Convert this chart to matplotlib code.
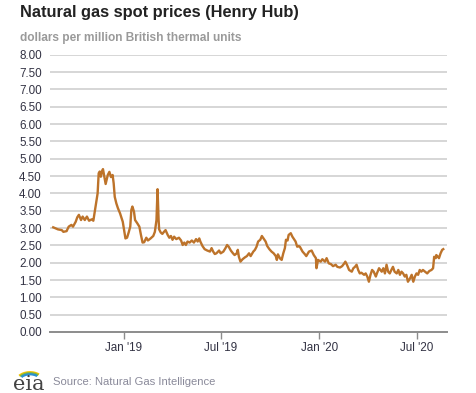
import matplotlib
matplotlib.use("Agg")
import matplotlib.pyplot as plt
import matplotlib.patches as mpatches
import pandas as pd

dates = [
    "2018-08-22", "2018-08-31", "2018-09-07", "2018-09-10", "2018-09-16", "2018-09-20", "2018-09-25", "2018-09-28",
    "2018-10-03", "2018-10-06", "2018-10-09", "2018-10-13", "2018-10-16", "2018-10-20", "2018-10-24", "2018-10-28",
    "2018-11-02", "2018-11-05", "2018-11-08", "2018-11-11", "2018-11-13", "2018-11-15", "2018-11-17", "2018-11-19",
    "2018-11-21", "2018-11-23", "2018-11-26", "2018-11-28", "2018-12-02", "2018-12-05", "2018-12-08", "2018-12-11",
    "2018-12-13", "2018-12-15", "2018-12-18", "2018-12-21", "2018-12-25", "2018-12-28", "2018-12-30", "2019-01-02",
    "2019-01-04", "2019-01-07", "2019-01-10", "2019-01-13",
    "2019-01-15", "2019-01-17", "2019-01-20", "2019-01-22", "2019-01-26", "2019-01-30", "2019-02-02", "2019-02-05",
    "2019-02-08", "2019-02-12", "2019-02-15", "2019-02-20", "2019-02-25", "2019-02-28", "2019-03-03", "2019-03-05",
    "2019-03-07", "2019-03-08", "2019-03-11", "2019-03-14", "2019-03-17", "2019-03-20", "2019-03-24", "2019-03-27",
    "2019-03-30", "2019-04-02", "2019-04-05", "2019-04-09", "2019-04-14", "2019-04-18", "2019-04-21", "2019-04-24",
    "2019-04-27", "2019-04-30", "2019-05-04", "2019-05-08", "2019-05-12", "2019-05-16", "2019-05-19", "2019-05-22",
    "2019-05-24", "2019-05-28", "2019-06-01", "2019-06-06", "2019-06-11", "2019-06-14", "2019-06-17",
    "2019-06-20", "2019-06-23", "2019-06-28", "2019-07-01", "2019-07-06", "2019-07-10", "2019-07-13", "2019-07-16",
    "2019-07-20", "2019-07-24", "2019-07-27", "2019-07-31", "2019-08-02", "2019-08-04", "2019-08-07", "2019-08-11",
    "2019-08-15", "2019-08-19", "2019-08-23", "2019-08-26", "2019-08-31", "2019-09-03", "2019-09-06", "2019-09-09",
    "2019-09-13", "2019-09-16", "2019-09-20", "2019-09-23", "2019-09-26", "2019-09-30", "2019-10-04", "2019-10-08",
    "2019-10-12", "2019-10-14", "2019-10-16", "2019-10-20", "2019-10-23", "2019-10-26", "2019-10-29", "2019-10-31",
    "2019-11-03", "2019-11-05", "2019-11-09", "2019-11-12", "2019-11-15", "2019-11-18", "2019-11-21", "2019-11-24",
    "2019-11-26", "2019-12-01", "2019-12-05", "2019-12-08", "2019-12-13", "2019-12-18", "2019-12-22", "2019-12-26",
    "2019-12-27", "2019-12-30", "2020-01-04", "2020-01-07", "2020-01-12", "2020-01-15", "2020-01-19", "2020-01-23",
    "2020-01-27", "2020-02-01", "2020-02-04", "2020-02-09", "2020-02-13", "2020-02-17", "2020-02-19", "2020-02-22",
    "2020-02-26", "2020-03-02", "2020-03-05", "2020-03-08", "2020-03-11", "2020-03-14", "2020-03-17", "2020-03-20",
    "2020-03-25", "2020-03-28", "2020-03-31", "2020-04-03", "2020-04-06", "2020-04-09", "2020-04-12", "2020-04-16",
    "2020-04-18", "2020-04-22",
    "2020-04-27", "2020-04-30", "2020-05-03", "2020-05-06", "2020-05-09", "2020-05-12", "2020-05-15", "2020-05-18",
    "2020-05-21", "2020-05-25", "2020-05-28", "2020-05-31", "2020-06-03", "2020-06-06", "2020-06-09", "2020-06-12",
    "2020-06-15", "2020-06-19", "2020-06-22", "2020-06-25", "2020-06-28", "2020-07-01", "2020-07-04", "2020-07-07",
    "2020-07-10", "2020-07-13", "2020-07-17", "2020-07-21", "2020-07-25", "2020-07-29", "2020-08-01", "2020-08-03",
    "2020-08-06", "2020-08-07", "2020-08-10", "2020-08-12", "2020-08-15", "2020-08-18", "2020-08-20",
]
prices = [
    3.02, 2.96, 2.94, 2.89, 2.91, 3.04, 3.09, 3.04,
    3.18, 3.31, 3.38, 3.23, 3.33, 3.23, 3.33, 3.21,
    3.25, 3.21, 3.50, 3.81, 4.00, 4.58, 4.63, 4.48,
    4.63, 4.70, 4.44, 4.27, 4.53, 4.62, 4.47, 4.53,
    4.29, 3.90, 3.71, 3.57, 3.42, 3.28, 3.18, 2.89,
    2.70, 2.72, 2.87, 3.04,
    3.52, 3.62, 3.47, 3.23, 3.14, 3.04, 2.80, 2.58,
    2.59, 2.72, 2.64, 2.70, 2.77, 2.89, 3.23, 4.12,
    3.23, 2.96, 2.87, 2.83, 2.89, 2.94, 2.80, 2.72,
    2.77, 2.66, 2.75, 2.68, 2.72, 2.64, 2.51, 2.58,
    2.51, 2.61, 2.58, 2.64, 2.58, 2.68, 2.61, 2.70,
    2.61, 2.48, 2.39, 2.35, 2.32, 2.42, 2.32,
    2.25, 2.27, 2.35, 2.27, 2.32, 2.42, 2.51, 2.46,
    2.35, 2.27, 2.22, 2.27, 2.37, 2.17, 2.03, 2.10,
    2.15, 2.19, 2.27, 2.19, 2.32, 2.37, 2.46, 2.61,
    2.66, 2.77, 2.68, 2.61, 2.48, 2.39, 2.32, 2.27,
    2.19, 2.08, 2.24, 2.12, 2.08, 2.27, 2.42, 2.66,
    2.64, 2.80, 2.85, 2.75, 2.68, 2.61, 2.46, 2.48,
    2.46, 2.32, 2.25, 2.19, 2.32, 2.35, 2.22, 2.13,
    1.84, 2.08, 2.03, 2.10, 2.03, 2.13, 1.98, 1.96,
    1.90, 1.94, 1.88, 1.86, 1.90, 1.98, 2.03, 1.94,
    1.79, 1.74, 1.84, 1.88, 1.94, 1.79, 1.69, 1.71,
    1.65, 1.69, 1.60, 1.45, 1.65, 1.79, 1.74, 1.60,
    1.69, 1.84,
    1.74, 1.84, 1.69, 1.94, 1.74, 1.69, 1.79, 1.88,
    1.74, 1.69, 1.79, 1.65, 1.74, 1.69, 1.60, 1.65,
    1.45, 1.55, 1.65, 1.45, 1.60, 1.69, 1.65, 1.79,
    1.74, 1.79, 1.74, 1.69, 1.76, 1.79, 1.84, 2.17,
    2.13, 2.22, 2.17, 2.13, 2.27, 2.37, 2.39,
]
y_ticks = [0, 0.5, 1, 1.5, 2, 2.5, 3, 3.5, 4, 4.5, 5, 5.5, 6, 6.5, 7, 7.5, 8]
x_ticks = ["2019-01-01", "2019-07-01", "2020-01-01", "2020-07-01"]
x_tick_labels = ["Jan '19", "Jul '19", "Jan '20", "Jul '20"]
x_range = ["2018-08-16", "2020-08-27"]

title = "Natural gas spot prices (Henry Hub)"
subtitle = "dollars per million British thermal units"
source = "Source: Natural Gas Intelligence"

plt.rcParams['font.family'] = ['Liberation Sans', 'DejaVu Sans']

W, H = 477, 393
fig = plt.figure(figsize=(W / 100, H / 100), dpi=100)
fig.patch.set_facecolor("white")

ax = fig.add_axes([50 / W, (H - 332) / H, 397 / W, 277.3 / H])
x = pd.to_datetime(dates)
ax.plot(x, prices, color="#BD732A", lw=1.7, solid_joinstyle="round", zorder=3)

ax.set_ylim(0, 8)
ax.set_xlim(pd.Timestamp(x_range[0]), pd.Timestamp(x_range[1]))
ax.set_yticks(y_ticks)
ax.set_yticklabels([f"{v:.2f}" for v in y_ticks])
ax.set_xticks(pd.to_datetime(x_ticks))
ax.set_xticklabels(x_tick_labels)

for v in y_ticks[1:]:
    ax.axhline(v, color="#d3d3d3", lw=1.3, zorder=1)

for s in ["top", "right", "left"]:
    ax.spines[s].set_visible(False)
ax.spines["bottom"].set_color("#8c8c8c")
ax.spines["bottom"].set_linewidth(1.4)
ax.tick_params(axis="y", length=0, pad=6, labelsize=8.4, labelcolor="#333344")
ax.tick_params(axis="x", length=5, width=1, color="#8c8c8c", pad=2,
               labelsize=8.4, labelcolor="#333344", direction="out")

fig.text(20 / W, 1 - 12 / H, title, fontsize=11.8, fontweight="bold",
         color="#222222", va="center", ha="left")
fig.text(20 / W, 1 - 38 / H, subtitle, fontsize=8.6, fontweight="bold",
         color="#9a9a9a", va="center", ha="left")
fig.text(53 / W, 1 - 382 / H, source, fontsize=8.1,
         color="#8a8a9a", va="center", ha="left")

# eia logo
fig.text(13 / W, 1 - 384 / H, "eia", fontsize=15, family="DejaVu Serif",
         color="#444444", va="center", ha="left")
lax = fig.add_axes([12 / W, 1 - 392 / H, 32 / W, 28 / H])
lax.set_xlim(0, 32)
lax.set_ylim(0, 28)
lax.axis("off")
for (r, col, lw) in [(14, "#f2c300", 1.6), (12.5, "#7ab648", 1.6), (11, "#2a8fd0", 1.6)]:
    lax.add_patch(mpatches.Arc((18, 10), 2 * r, 2 * r * 0.7, theta1=40, theta2=150,
                               color=col, lw=lw))

fig.savefig("out.png", dpi=100, facecolor="white")
